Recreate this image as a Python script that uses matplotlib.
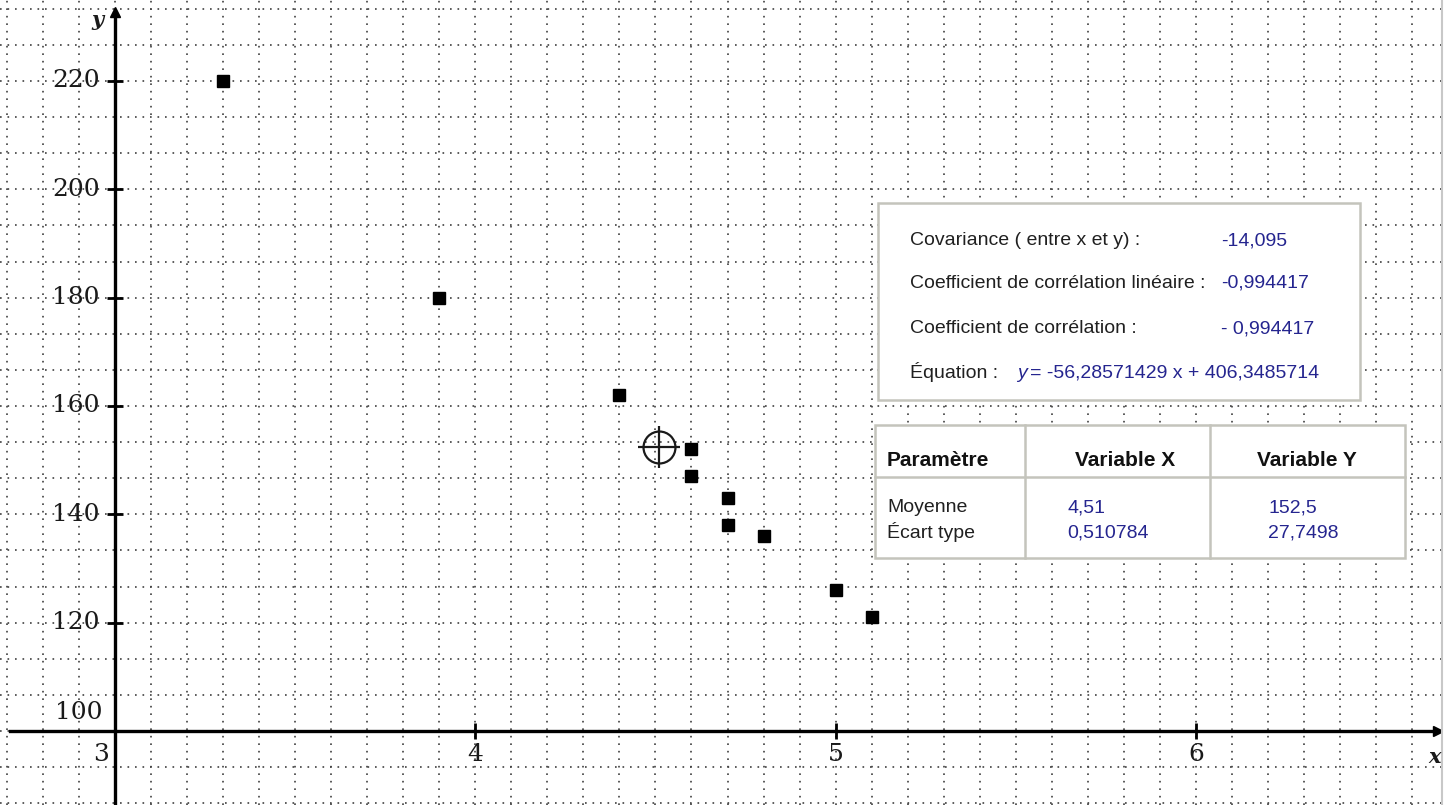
import numpy as np
import matplotlib
matplotlib.use('Agg')
import matplotlib.pyplot as plt
from matplotlib.patches import Rectangle
from matplotlib.lines import Line2D

# Data: x values and measured y values
x_vals = [3.3, 3.9, 4.4, 4.6, 4.6, 4.7, 4.7, 4.8, 5.0, 5.1]
y_vals = [220, 180, 162, 152, 147, 143, 138, 136, 126, 121]

x_ticks = [4, 5, 6]
y_ticks = [120, 140, 160, 180, 200, 220]
equation = '= -56,28571429 x + 406,3485714'

W, H = 1452, 805


def px(x, y):
    # pixel position -> figure fraction
    return x / W, 1 - y / H


def fr(v, fmt='{:g}'):
    return fmt.format(v).replace('.', ',')


def main():
    x = np.array(x_vals)
    y = np.array(y_vals)
    mx, my = x.mean(), y.mean()
    sx, sy = x.std(), y.std()
    cov = np.mean((x - mx) * (y - my))
    r = cov / (sx * sy)

    fig = plt.figure(figsize=(W / 100, H / 100), dpi=100)
    ax = fig.add_axes([0, 0, 1442 / W, 1])

    for s in ax.spines.values():
        s.set_visible(False)

    # dotted grid (ticks first, limits after so they are not widened)
    ax.set_xticks(np.arange(2.7, 6.65, 0.1))
    ax.set_yticks(100 + np.arange(-2, 21) * 20 / 3)
    ax.tick_params(length=0, labelbottom=False, labelleft=False)
    ax.grid(True, color='#404040', linestyle=(0, (1, 3.5)), linewidth=1.2)

    sxu = 360.3   # px per x unit
    syu = 5.4167  # px per y unit
    x0 = 3 - 115 / sxu
    y0 = 100 - 74 / syu
    ax.set_xlim(x0, x0 + 1442 / sxu)
    ax.set_ylim(y0, y0 + H / syu)

    # axes through (3, 100)
    xa0 = x0 + 10 / sxu
    xa1 = x0 + 1438 / sxu
    ya1 = y0 + (H - 12) / syu
    ax.plot([xa0, xa1], [100, 100], color='black', lw=2.4, zorder=3)
    ax.plot([3, 3], [y0, ya1], color='black', lw=2.4, zorder=3)
    ax.plot([xa1], [100], marker='>', color='black', ms=7, zorder=3)
    ax.plot([3], [ya1], marker='^', color='black', ms=7, zorder=3)

    # tick marks
    ax.plot(x_ticks, [100] * len(x_ticks), ls='none', marker='|',
            color='black', ms=11, mew=2, zorder=3)
    ax.plot([3] * len(y_ticks), y_ticks, ls='none', marker='_',
            color='black', ms=12, mew=2, zorder=3)

    serif = dict(family='DejaVu Serif', fontsize=18, color='#1a1a1a')
    for v in y_ticks:
        ax.annotate(str(v), (3, v), xytext=(-11, 0), textcoords='offset points',
                    ha='right', va='center', **serif)
    ax.annotate('100', (3, 100), xytext=(-9, 13), textcoords='offset points',
                ha='right', va='center', **serif)
    ax.annotate('3', (3, 100), xytext=(-4, -17), textcoords='offset points',
                ha='right', va='center', **serif)
    for v in x_ticks:
        ax.annotate(str(v), (v, 100), xytext=(0, -17), textcoords='offset points',
                    ha='center', va='center', **serif)

    fig.text(*px(97, 20), 'y', ha='center', va='center', family='DejaVu Serif',
             style='italic', weight='bold', fontsize=15, color='#1a1a1a')
    fig.text(*px(1435, 757), 'x', ha='center', va='center', family='DejaVu Serif',
             style='italic', weight='bold', fontsize=15, color='#1a1a1a')

    # data points and mean point
    ax.plot(x, y, ls='none', marker='s', color='black', ms=8.5, zorder=4)
    ax.plot([mx], [my], marker='o', mfc='none', mec='#1a1a1a', ms=23, mew=1.6, zorder=4)
    ax.plot([mx], [my], marker='+', color='#1a1a1a', ms=30, mew=1.6, zorder=4)

    # right border of drawing area
    fig.add_artist(Line2D([1442 / W] * 2, [0, 1], color='#c8c8c8', lw=1.5))

    # statistics box
    edge = '#c4c4bc'
    fig.add_artist(Rectangle(px(878, 400), (1360 - 878) / W, (400 - 203) / H,
                             transform=fig.transFigure, fc='white', ec=edge, lw=1.8))
    dark = '#202020'
    blue = '#25258f'
    sans = dict(family='Liberation Sans', fontsize=14, va='baseline')
    rows = [
        ('Covariance ( entre x et y) :', fr(cov), 245),
        ('Coefficient de corrélation linéaire :', fr(r, '{:.6f}'), 288),
        ('Coefficient de corrélation :', fr(r, '{:.6f}').replace('-', '- '), 333),
    ]
    for lab, val, yy in rows:
        fig.text(*px(910, yy), lab, color=dark, **sans)
        fig.text(*px(1221, yy), val, color=blue, **sans)
    fig.text(*px(910, 378), 'Équation :', color=dark, **sans)
    fig.text(*px(1017, 378), 'y', color=blue, style='italic', **sans)
    fig.text(*px(1030, 378), equation, color=blue, **sans)

    # parameter table
    fig.add_artist(Rectangle(px(875, 558), (1405 - 875) / W, (558 - 425) / H,
                             transform=fig.transFigure, fc='white', ec=edge, lw=1.8))
    fig.add_artist(Line2D([875 / W, 1405 / W], [1 - 477 / H] * 2, color=edge, lw=1.8))
    for xv in (1025, 1210):
        fig.add_artist(Line2D([xv / W] * 2, [1 - 425 / H, 1 - 558 / H], color=edge, lw=1.8))

    head = dict(family='Liberation Sans', fontsize=15, weight='bold', color='#111111',
                va='baseline')
    fig.text(*px(887, 466), 'Paramètre', ha='left', **head)
    fig.text(*px(1125, 466), 'Variable X', ha='center', **head)
    fig.text(*px(1307, 466), 'Variable Y', ha='center', **head)

    fig.text(*px(887, 512), 'Moyenne', color=dark, **sans)
    fig.text(*px(887, 538), 'Écart type', color=dark, **sans)
    fig.text(*px(1067, 512), fr(mx), color=blue, **sans)
    fig.text(*px(1067, 538), fr(sx), color=blue, **sans)
    fig.text(*px(1268, 512), fr(my), color=blue, **sans)
    fig.text(*px(1268, 538), fr(sy), color=blue, **sans)

    plt.savefig('out.png', dpi=100)


if __name__ == '__main__':
    main()
